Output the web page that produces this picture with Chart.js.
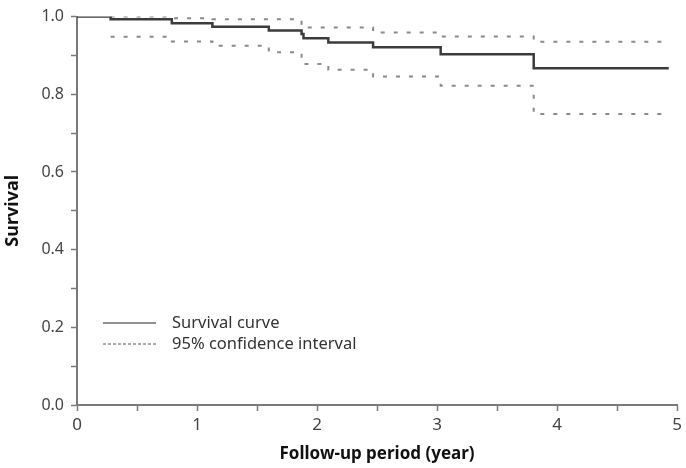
<!DOCTYPE html>
<html>
<head>
<meta charset="utf-8">
<script src="https://cdn.jsdelivr.net/npm/chart.js@4"></script>
<style>
  html, body { margin: 0; padding: 0; background: #fff; }
  #wrap { width: 686px; height: 468px; }
</style>
</head>
<body>
<div id="wrap"><canvas id="kmChart" width="686" height="468"></canvas></div>
<script>
// Kaplan-Meier estimate (time in years)
const survTimes  = [0, 0.28, 0.79, 1.128, 1.598, 1.871, 1.887, 2.094, 2.467, 3.03, 3.805, 4.93];
const survValues = [1.0, 0.993, 0.983, 0.974, 0.964, 0.955, 0.944, 0.933, 0.921, 0.903, 0.867, 0.867];

// 95% confidence band
const upperTimes  = [0.28, 0.79, 1.128, 1.871, 2.467, 3.03, 3.805, 4.93];
const upperValues = [1.0, 0.996, 0.993, 0.972, 0.959, 0.949, 0.935, 0.935];
const lowerTimes  = [0.28, 0.79, 1.128, 1.598, 1.871, 2.094, 2.467, 3.03, 3.805, 4.93];
const lowerValues = [0.948, 0.936, 0.925, 0.908, 0.878, 0.863, 0.846, 0.822, 0.749, 0.749];

const legendLabels = ['Survival curve', '95% confidence interval'];

function toPoints(xs, ys) {
    return xs.map((x, i) => ({ x: x, y: ys[i] }));
}

const axisGray = '#7a7a7a';
const fontFam = "'Noto Sans', 'Open Sans', sans-serif";

// legend drawn inside the plot, lower left
const insideLegend = {
    id: 'insideLegend',
    afterDraw(chart) {
        const ctx = chart.ctx;
        const x0 = 103, x1 = 156, tx = 172;
        const rows = [323, 344];
        ctx.save();
        ctx.font = '16.5px ' + fontFam;
        ctx.fillStyle = '#333';
        ctx.textBaseline = 'middle';
        rows.forEach((y, i) => {
            ctx.beginPath();
            ctx.lineWidth = 1;
            ctx.strokeStyle = i === 0 ? '#222' : '#555';
            ctx.setLineDash(i === 0 ? [] : [3, 2]);
            ctx.moveTo(x0, y);
            ctx.lineTo(x1, y);
            ctx.stroke();
            ctx.fillText(legendLabels[i], tx, y);
        });
        ctx.restore();
    }
};

const ctx = document.getElementById('kmChart').getContext('2d');
const kmChart = new Chart(ctx, {
    type: 'line',
    data: {
        datasets: [
            { label: legendLabels[0], data: toPoints(survTimes, survValues), borderColor: '#3c3c3c', borderWidth: 2.5, stepped: true, pointRadius: 0, fill: false },
            { label: legendLabels[1], data: toPoints(upperTimes, upperValues), borderColor: '#8a8a8a', borderWidth: 2, borderDash: [4, 9], stepped: true, pointRadius: 0, fill: false },
            { label: legendLabels[1] + ' (lower)', data: toPoints(lowerTimes, lowerValues), borderColor: '#8a8a8a', borderWidth: 2, borderDash: [4, 9], stepped: true, pointRadius: 0, fill: false }
        ]
    },
    options: {
        responsive: false,
        animation: false,
        layout: { padding: { top: 14, right: 4, left: 0, bottom: 0 } },
        plugins: { legend: { display: false }, tooltip: { enabled: false } },
        scales: {
            x: {
                type: 'linear', min: 0, max: 5,
                border: { color: axisGray, width: 2 },
                grid: { drawOnChartArea: false, drawTicks: true, tickLength: 6, tickColor: axisGray, tickWidth: 1.5 },
                ticks: {
                    stepSize: 0.5, padding: 4, color: '#444', maxRotation: 0, autoSkip: false,
                    font: { family: fontFam, size: 17 },
                    callback: v => (Math.abs(v - Math.round(v)) < 1e-6 ? String(Math.round(v)) : '')
                },
                title: { display: true, text: 'Follow-up period (year)', color: '#111', font: { family: fontFam, size: 17, weight: 'bold' }, padding: { top: 0, bottom: 4 } },
                afterFit: s => { s.height = 63; }
            },
            y: {
                min: 0, max: 1,
                border: { color: axisGray, width: 2 },
                grid: { drawOnChartArea: false, drawTicks: true, tickLength: 6, tickColor: axisGray, tickWidth: 1.5 },
                ticks: {
                    stepSize: 0.1, padding: 7, color: '#444', autoSkip: false,
                    font: { family: fontFam, size: 16 },
                    callback: v => (Math.round(v * 10) % 2 === 0 ? v.toFixed(1) : '')
                },
                title: { display: true, text: 'Survival', color: '#111', font: { family: fontFam, size: 18, weight: 'bold' }, padding: { top: 2, bottom: 0 } },
                afterFit: s => { s.width = 77; }
            }
        }
    },
    plugins: [insideLegend]
});
</script>
</body>
</html>
